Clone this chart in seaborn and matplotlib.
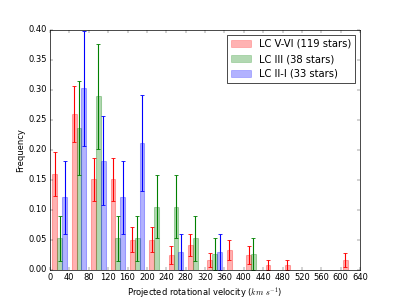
import numpy as np
import pandas as pd
import matplotlib
matplotlib.use('Agg')
import matplotlib.pyplot as plt
import seaborn as sns
from matplotlib.patches import Patch

# old-school matplotlib look (ticks inside, grey-ish frame)
plt.style.use('classic')

# 40 km/s bins from 0 to 640
bin_edges = np.arange(0, 641, 40)

# number of stars per bin
counts_v = [19, 31, 18, 18, 6, 6, 3, 5, 2, 4, 3, 1, 1, 0, 0, 2]
counts_iii = [2, 9, 11, 2, 2, 4, 4, 2, 1, 0, 1, 0, 0, 0, 0, 0]
counts_ii = [4, 10, 6, 4, 7, 0, 1, 0, 1, 0, 0, 0, 0, 0, 0, 0]

labels = ['LC V-VI (119 stars)', 'LC III (38 stars)', 'LC II-I (33 stars)']
colors = ['r', 'g', 'b']

centers = (bin_edges[:-1] + bin_edges[1:]) / 2

rows = []
for counts, lab in zip([counts_v, counts_iii, counts_ii], labels):
    counts = np.array(counts)
    n_tot = counts.sum()
    for c, n in zip(centers, counts):
        if n > 0:
            rows.append({'v': c, 'freq': n / n_tot,
                         'err': np.sqrt(n) / n_tot, 'lc': lab})
df = pd.DataFrame(rows)

fig, ax = plt.subplots(figsize=(8, 6), dpi=50)

sns.barplot(data=df, x='v', y='freq', hue='lc', hue_order=labels,
            palette=colors, native_scale=True, width=0.75, saturation=1,
            alpha=0.3, errorbar=None, legend=False, ax=ax)

# bar outline in the same (transparent) colour
for p in ax.patches:
    p.set_edgecolor(p.get_facecolor())
    p.set_linewidth(1.5)

# poisson error bars on top of each bar
bar_w = 40 * 0.75 / 3
for i, (lab, col) in enumerate(zip(labels, colors)):
    sub = df[df['lc'] == lab]
    ax.errorbar(sub['v'] + (i - 1) * bar_w, sub['freq'], yerr=sub['err'],
                fmt='none', ecolor=col, elinewidth=1.6, capsize=3, capthick=1.2)

handles = [Patch(facecolor=c, edgecolor=c, alpha=0.3, label=l)
           for c, l in zip(colors, labels)]
ax.legend(handles=handles, loc='upper right')

ax.set_xlim(0, 640)
ax.set_ylim(0, 0.4)
ax.set_xticks(bin_edges)
ax.set_xlabel(r'Projected rotational velocity ($km\ s^{-1}$)')
ax.set_ylabel('Frequency')

fig.savefig('out.png', dpi=50)
